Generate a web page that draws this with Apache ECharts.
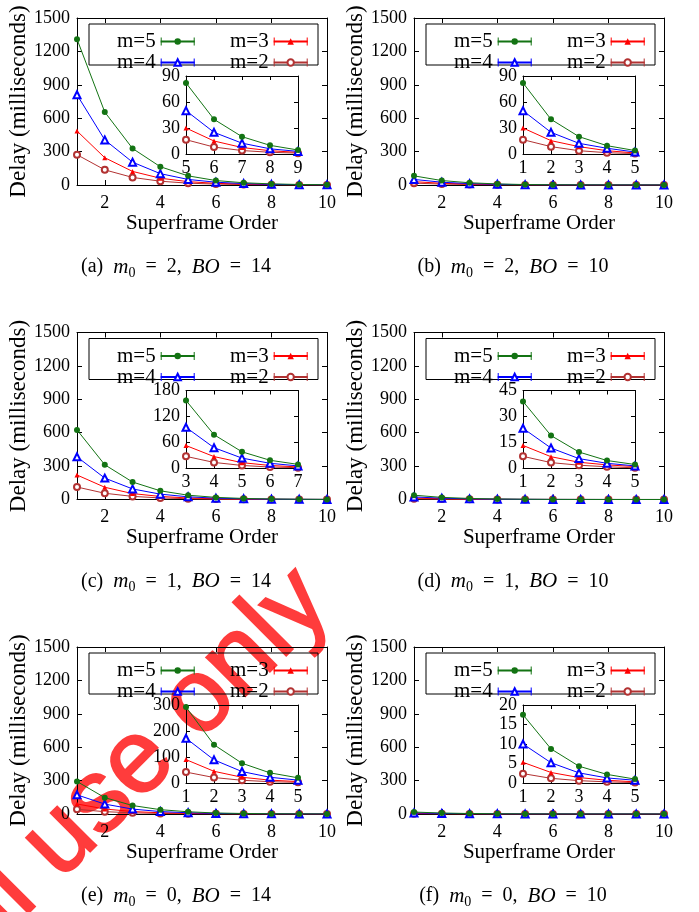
<!DOCTYPE html>
<html lang="en">
<head>
<meta charset="UTF-8">
<title>Delay vs Superframe Order</title>
<script src="https://cdn.jsdelivr.net/npm/echarts@6/dist/echarts.min.js"></script>
<style>
  html, body { margin: 0; padding: 0; background: #fff; }
  #main { width: 699px; height: 912px; }
</style>
</head>
<body>
<div id="main"></div>
<script>
// x values shared by every panel
const superframeOrder = [1, 2, 3, 4, 5, 6, 7, 8, 9, 10];
const mNames = ['m=5', 'm=4', 'm=3', 'm=2'];

// (a) m0 = 2, BO = 14
const a_m5 = [1310, 655, 328, 164, 82, 40, 20, 10, 4.6, 2.3];
const a_m4 = [810, 405, 205, 102, 50, 25, 12.5, 6, 3, 1.5];
const a_m3 = [485, 245, 122, 61, 30, 15, 7.5, 3.8, 1.9, 0.9];
const a_m2 = [272, 136, 68, 34, 16.5, 8, 4, 2, 1, 0.5];
// (b) m0 = 2, BO = 10
const b_m5 = [82, 40, 20, 9.6, 4, 2, 1, 0.5, 0.3, 0.1];
const b_m4 = [50, 25, 12.3, 6.6, 2.3, 1.2, 0.6, 0.3, 0.2, 0.1];
const b_m3 = [30, 15.4, 8.5, 3.8, 1.2, 0.6, 0.3, 0.2, 0.1, 0.05];
const b_m2 = [16.5, 8.5, 3.8, 1.5, 0.5, 0.3, 0.1, 0.1, 0.05, 0.02];
// (c) m0 = 1, BO = 14
const c_m5 = [625, 312, 157, 78, 38.5, 19, 9.5, 4.6, 2.3, 1.1];
const c_m4 = [383, 192, 95, 48, 24, 12, 6, 3, 1.5, 0.7];
const c_m3 = [220, 110, 53, 27.5, 13.5, 7, 3.6, 2, 1, 0.5];
const c_m2 = [112, 56, 28, 14, 7, 3.4, 1.9, 1, 0.5, 0.2];
// (d) m0 = 1, BO = 10
const d_m5 = [38.7, 19, 9.5, 4.6, 2.3, 1.1, 0.6, 0.3, 0.15, 0.07];
const d_m4 = [23.2, 11.8, 5.7, 3, 1.5, 0.7, 0.4, 0.2, 0.1, 0.05];
const d_m3 = [13.3, 6.8, 3.6, 2.1, 1.1, 0.5, 0.3, 0.1, 0.07, 0.03];
const d_m2 = [7, 3.4, 1.9, 1, 0.4, 0.2, 0.1, 0.05, 0.03, 0.01];
// (e) m0 = 0, BO = 14
const e_m5 = [292, 147, 76, 39, 20, 9, 4.4, 2.2, 1, 0.5];
const e_m4 = [172, 89, 44, 22, 11, 5.2, 2.6, 1.3, 0.7, 0.3];
const e_m3 = [90, 45, 22, 11, 5.5, 2.7, 1.4, 0.7, 0.3, 0.2];
const e_m2 = [42, 21, 10.5, 5, 2.5, 1.2, 0.6, 0.3, 0.2, 0.1];
// (f) m0 = 0, BO = 10
const f_m5 = [17.5, 8.75, 4.3, 2.2, 1, 0.5, 0.25, 0.12, 0.06, 0.03];
const f_m4 = [10, 5.2, 2.6, 1.3, 0.7, 0.3, 0.15, 0.08, 0.04, 0.02];
const f_m3 = [5.3, 2.7, 1.4, 0.7, 0.3, 0.15, 0.08, 0.04, 0.02, 0.01];
const f_m2 = [2.4, 1.2, 0.6, 0.3, 0.1, 0.05, 0.03, 0.01, 0.01, 0];

const mainXTicks = [2, 4, 6, 8, 10];

const panels = [
    {tag: 'a', m0: 2, bo: 14, data: [a_m5, a_m4, a_m3, a_m2], ix: [5, 9], iy: [90, 30]},
    {tag: 'b', m0: 2, bo: 10, data: [b_m5, b_m4, b_m3, b_m2], ix: [1, 5], iy: [90, 30]},
    {tag: 'c', m0: 1, bo: 14, data: [c_m5, c_m4, c_m3, c_m2], ix: [3, 7], iy: [180, 60]},
    {tag: 'd', m0: 1, bo: 10, data: [d_m5, d_m4, d_m3, d_m2], ix: [1, 5], iy: [45, 15]},
    {tag: 'e', m0: 0, bo: 14, data: [e_m5, e_m4, e_m3, e_m2], ix: [1, 5], iy: [300, 100]},
    {tag: 'f', m0: 0, bo: 10, data: [f_m5, f_m4, f_m3, f_m2], ix: [1, 5], iy: [20, 5]}
];

// line colours and point types, gnuplot style
const looks = [
    {color: '#137313', symbol: 'circle', size: 6},
    {color: '#0000ff', symbol: 'emptyTriangle', size: 7},
    {color: '#ff0000', symbol: 'triangle', size: 5},
    {color: '#b23232', symbol: 'emptyCircle', size: 6}
];

const serif = '"Liberation Serif", "Times New Roman", "DejaVu Serif", serif';
const black = '#000';
// error bar end caps drawn in the key
const capIcon = 'path://M0,0H1V8H0Z M33,0H34V8H33Z';

let myChart = echarts.init(document.getElementById('main'));

let option = {
    animation: false,
    backgroundColor: '#fff',
    textStyle: {fontFamily: serif},
    grid: [],
    xAxis: [],
    yAxis: [],
    legend: [],
    series: [],
    graphic: []
};

function axisCommon(gridIndex, pos, min, max, tickLen, showLabel, margin) {
    return {
        gridIndex: gridIndex,
        type: 'value',
        position: pos,
        min: min,
        max: max,
        axisLine: {show: true, onZero: false, lineStyle: {color: black, width: 1}},
        axisTick: {show: true, inside: true, length: tickLen, lineStyle: {color: black, width: 1}},
        axisLabel: {
            show: showLabel, margin: margin, color: black, fontFamily: serif, fontSize: 18,
            formatter: v => String(v)
        },
        splitLine: {show: false}
    };
}

panels.forEach((p, i) => {
    let col = i % 2;
    let row = Math.floor(i / 2);
    let L = 77 + col * 337;
    let T = 18 + row * 314.5;

    let g = option.grid.length;
    option.grid.push({left: L, top: T, width: 250, height: 167});
    option.grid.push({left: L + 109, top: T + 58, width: 112, height: 78});

    let xb = option.xAxis.length;
    let yl = option.yAxis.length;

    // main plot: bottom / top x, left / right y
    let x1 = axisCommon(g, 'bottom', 1, 10, 5, true, 9);
    x1.axisTick.customValues = mainXTicks;
    x1.axisLabel.customValues = mainXTicks;
    x1.name = 'Superframe Order';
    x1.nameLocation = 'middle';
    x1.nameGap = 26;
    x1.nameTextStyle = {color: black, fontFamily: serif, fontSize: 21};
    let x2 = axisCommon(g, 'top', 1, 10, 5, false, 8);
    x2.axisTick.customValues = mainXTicks;
    option.xAxis.push(x1, x2);

    let y1 = axisCommon(g, 'left', 0, 1500, 5, true, 7);
    y1.interval = 300;
    y1.name = 'Delay (milliseconds)';
    y1.nameLocation = 'middle';
    y1.nameGap = 40;
    y1.nameTextStyle = {color: black, fontFamily: serif, fontSize: 23};
    let y2 = axisCommon(g, 'right', 0, 1500, 5, false, 7);
    y2.interval = 300;
    option.yAxis.push(y1, y2);

    // inset
    let ix1 = axisCommon(g + 1, 'bottom', p.ix[0], p.ix[1], 4, true, 5);
    ix1.interval = 1;
    let ix2 = axisCommon(g + 1, 'top', p.ix[0], p.ix[1], 4, false, 5);
    ix2.interval = 1;
    option.xAxis.push(ix1, ix2);
    let iy1 = axisCommon(g + 1, 'left', 0, p.iy[0], 4, true, 6);
    iy1.interval = p.iy[1];
    let iy2 = axisCommon(g + 1, 'right', 0, p.iy[0], 4, false, 6);
    iy2.interval = p.iy[1];
    option.yAxis.push(iy1, iy2);

    p.data.forEach((vals, k) => {
        let pts = superframeOrder.map((x, j) => [x, vals[j]]);
        let lk = looks[k];
        let base = {
            name: mNames[k],
            type: 'line',
            data: pts,
            symbol: lk.symbol,
            symbolSize: lk.size,
            showAllSymbol: true,
            clip: true,
            itemStyle: {color: lk.color, borderWidth: 1},
            lineStyle: {color: lk.color, width: 1},
            emphasis: {disabled: true}
        };
        option.series.push(Object.assign({}, base, {xAxisIndex: xb, yAxisIndex: yl, z: 2 + (3 - k) * 0.1}));
        option.series.push(Object.assign({}, base, {xAxisIndex: xb + 2, yAxisIndex: yl + 2, z: 3 + (3 - k) * 0.1}));
    });

    // key: two columns, label left of sample
    let keyStyle = {color: black, fontFamily: serif, fontSize: 21, lineHeight: 14};
    [[L + 40, ['m=5', 'm=4']], [L + 153, ['m=3', 'm=2']]].forEach(([kx, names]) => {
        option.legend.push({
            left: kx, top: T + 13, orient: 'vertical', align: 'right',
            padding: 0, itemGap: 0, itemWidth: 34, itemHeight: 8,
            selectedMode: false, data: names, textStyle: keyStyle
        });
        // caps at both ends of each sample
        option.legend.push({
            left: kx + 43.7, top: T + 13, orient: 'vertical', align: 'left',
            padding: 0, itemGap: 0, itemWidth: 34, itemHeight: 8,
            icon: capIcon, formatter: () => ' ',
            selectedMode: false, data: names, textStyle: keyStyle
        });
    });
    option.graphic.push({
        type: 'rect',
        shape: {x: L + 12, y: T + 6, width: 229, height: 41},
        style: {fill: 'none', stroke: black, lineWidth: 1},
        silent: true
    });

    // sub-caption
    option.graphic.push({
        type: 'text',
        x: L + 99,
        y: T + 249,
        silent: true,
        style: {
            text: '(' + p.tag + ')  {i|m}{s|0}  =  ' + p.m0 + ',  {i|BO}  =  ' + p.bo,
            fontFamily: serif, fontSize: 20, lineHeight: 26, fill: black,
            align: 'center', verticalAlign: 'middle',
            rich: {
                i: {fontFamily: serif, fontSize: 21, fontStyle: 'italic', lineHeight: 26},
                s: {fontFamily: serif, fontSize: 14, lineHeight: 26, verticalAlign: 'bottom'}
            }
        }
    });
});

// red watermark over the lower left
option.graphic.push({
    type: 'text',
    x: 314,
    y: 587,
    rotation: Math.PI / 4,
    z: -1,
    silent: true,
    style: {
        text: 'Personal use only',
        font: '104px "Liberation Sans", sans-serif',
        fill: '#ff3c3c',
        stroke: '#ff3c3c',
        lineWidth: 2,
        align: 'right',
        verticalAlign: 'middle'
    }
});

myChart.setOption(option);
</script>
</body>
</html>
